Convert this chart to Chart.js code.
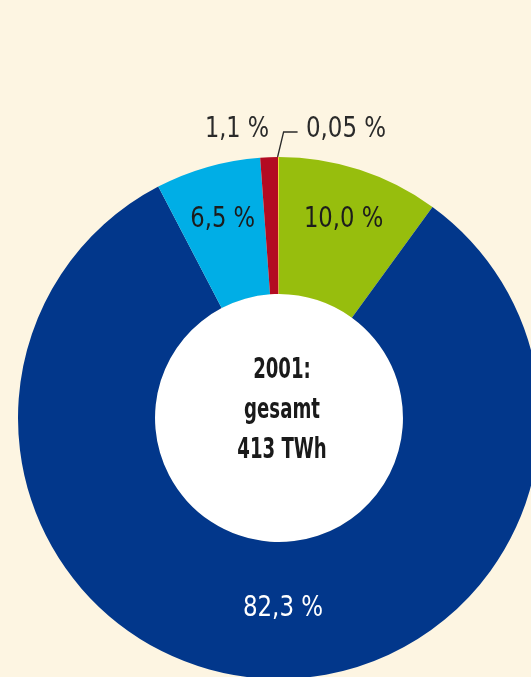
<!DOCTYPE html>
<html>
<head>
<meta charset="utf-8">
<script src="https://cdn.jsdelivr.net/npm/chart.js@4"></script>
<style>
  html, body { margin: 0; padding: 0; background: #fdf5e2; overflow: hidden; width: 531px; height: 677px; }
  #wrap { position: absolute; left: 0; top: 0; width: 560px; height: 700px; }
</style>
</head>
<body>
<div id="wrap"><canvas id="chart"></canvas></div>
<script>
// clockwise from 12 o'clock
const sources = ["Wind", "Fossil/Kern", "Wasser", "Biomasse", "Photovoltaik"];
const shares = [10.0, 82.3, 6.5, 1.1, 0.05];
const shareLabels = ["10,0 %", "82,3 %", "6,5 %", "1,1 %", "0,05 %"];
const colors = ["#97be0d", "#02378b", "#00aee6", "#b30b22", "#f2e21a"];
const centerLines = ["2001:", "gesamt", "413 TWh"];

const FONT = '"Liberation Sans Narrow", "DejaVu Sans Condensed", "Liberation Sans", sans-serif';

// condensed look: squeeze text horizontally
function squeezed(ctx, text, x, y, sx) {
  ctx.save();
  ctx.translate(x, y);
  ctx.scale(sx, 1);
  ctx.fillText(text, 0, 0);
  ctx.restore();
}

const labelPlugin = {
  id: "labels",
  beforeDatasetsDraw(chart) {
    // white hole
    const arc = chart.getDatasetMeta(0).data[0];
    const ctx = chart.ctx;
    ctx.save();
    ctx.fillStyle = "#ffffff";
    ctx.beginPath();
    ctx.arc(arc.x, arc.y, arc.innerRadius, 0, Math.PI * 2);
    ctx.fill();
    ctx.restore();
  },
  afterDatasetsDraw(chart) {
    const ctx = chart.ctx;
    const arcs = chart.getDatasetMeta(0).data;
    const cx = arcs[0].x, cy = arcs[0].y, R = arcs[0].outerRadius;
    ctx.save();
    ctx.textAlign = "center";
    ctx.textBaseline = "middle";

    const midPos = (a, r) => {
      const m = (a.startAngle + a.endAngle) / 2;
      return [cx + Math.cos(m) * r, cy + Math.sin(m) * r];
    };

    ctx.font = "29px " + FONT;
    // inside labels
    let p = midPos(arcs[0], R * 0.80);
    ctx.fillStyle = "#1c1c1c";
    squeezed(ctx, shareLabels[0], p[0], p[1], 0.87);
    p = midPos(arcs[2], R * 0.79);
    squeezed(ctx, shareLabels[2], p[0], p[1], 0.87);
    ctx.fillStyle = "#ffffff";
    squeezed(ctx, shareLabels[1], cx + 4, cy + R * 0.73, 0.88);

    // outside labels
    ctx.fillStyle = "#2a2a2a";
    squeezed(ctx, shareLabels[3], cx - 42, cy - R - 28, 0.86);
    squeezed(ctx, shareLabels[4], cx + 67, cy - R - 28, 0.88);

    // leader line for the smallest slice
    const y = arcs[4];
    const ang = (y.startAngle + y.endAngle) / 2;
    const x0 = cx + Math.cos(ang) * R, y0 = cy + Math.sin(ang) * R;
    ctx.strokeStyle = "#2a2a2a";
    ctx.lineWidth = 1.3;
    ctx.beginPath();
    ctx.moveTo(x0 - 1, y0);
    ctx.lineTo(x0 + 5, y0 - 25);
    ctx.lineTo(x0 + 19, y0 - 25);
    ctx.stroke();

    // center text
    ctx.fillStyle = "#1a1a1a";
    ctx.font = "bold 28px " + FONT;
    centerLines.forEach((t, i) => {
      squeezed(ctx, t, cx + 3, cy - 47 + i * 40, 0.72);
    });
    ctx.restore();
  }
};

new Chart(document.getElementById("chart"), {
  type: "doughnut",
  data: {
    labels: sources,
    datasets: [{
      data: shares,
      backgroundColor: colors,
      borderWidth: 0
    }]
  },
  options: {
    responsive: true,
    maintainAspectRatio: false,
    animation: false,
    cutout: "47.5%",
    layout: { padding: { left: 18, top: 157, right: 20, bottom: 21 } },
    plugins: {
      legend: { display: false },
      tooltip: { enabled: false }
    }
  },
  plugins: [labelPlugin]
});
</script>
</body>
</html>
